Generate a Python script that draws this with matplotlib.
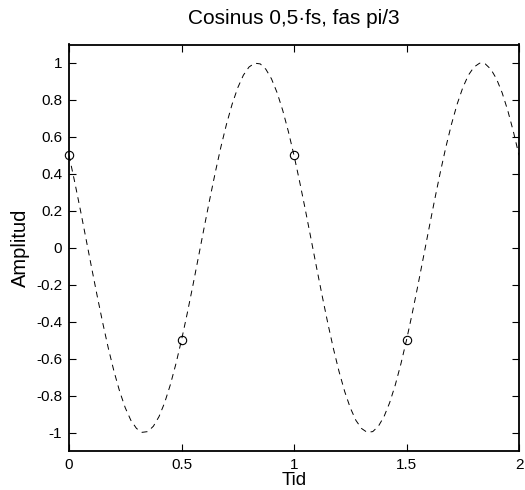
import numpy as np
import matplotlib
matplotlib.use("Agg")
import matplotlib.pyplot as plt

plt.rcParams['font.family'] = ['Liberation Sans', 'DejaVu Sans']

# continuous curve, every 0.025 s
curve_y = [0.500, 0.358, 0.208, 0.052, -0.105, -0.259, -0.407, -0.545, -0.669, -0.777,
           -0.866, -0.934, -0.978, -0.999, -0.995, -0.966, -0.914, -0.839, -0.743, -0.629,
           -0.500, -0.358, -0.208, -0.052, 0.105, 0.259, 0.407, 0.545, 0.669, 0.777,
           0.866, 0.934, 0.978, 0.999, 0.995, 0.966, 0.914, 0.839, 0.743, 0.629,
           0.500, 0.358, 0.208, 0.052, -0.105, -0.259, -0.407, -0.545, -0.669, -0.777,
           -0.866, -0.934, -0.978, -0.999, -0.995, -0.966, -0.914, -0.839, -0.743, -0.629,
           -0.500, -0.358, -0.208, -0.052, 0.105, 0.259, 0.407, 0.545, 0.669, 0.777,
           0.866, 0.934, 0.978, 0.999, 0.995, 0.966, 0.914, 0.839, 0.743, 0.629,
           0.500]
curve_t = np.linspace(0, 2, len(curve_y))

# samples
sample_t = [0, 0.5, 1.0, 1.5]
sample_y = [0.5, -0.5, 0.5, -0.5]

xticks = [0, 0.5, 1, 1.5, 2]
yticks = [-1, -0.8, -0.6, -0.4, -0.2, 0, 0.2, 0.4, 0.6, 0.8, 1]

fig = plt.figure(figsize=(5.25, 4.9), dpi=100)
ax = fig.add_axes([69/525, 1 - 451/490, (519 - 69)/525, (451 - 44.5)/490])

ax.plot(curve_t, curve_y, 'k--', lw=0.7, dashes=(6, 5))
ax.plot(sample_t, sample_y, 'o', mfc='none', mec='k', ms=6, mew=0.8, clip_on=False, zorder=5)

ax.set_xlim(0, 2)
ax.set_ylim(-1.1, 1.1)
ax.set_xticks(xticks)
ax.set_xticklabels(['0', '0.5', '1', '1.5', '2'])
ax.set_yticks(yticks)
ax.set_yticklabels(['-1', '-0.8', '-0.6', '-0.4', '-0.2', '0', '0.2', '0.4', '0.6', '0.8', '1'])
ax.tick_params(direction='in', top=True, right=True, length=5, width=0.8, labelsize=11, pad=5)
for s in ax.spines.values():
    s.set_linewidth(1.3)

ax.set_title('Cosinus 0,5\u00b7fs, fas pi/3', fontsize=15, pad=15)
# the reference clips "Tid" at the bottom edge; keep it just inside
ax.set_xlabel('Tid', fontsize=13.5, labelpad=0)
ax.set_ylabel('Amplitud', fontsize=14.5, labelpad=4)

fig.savefig('out.png', dpi=100)
